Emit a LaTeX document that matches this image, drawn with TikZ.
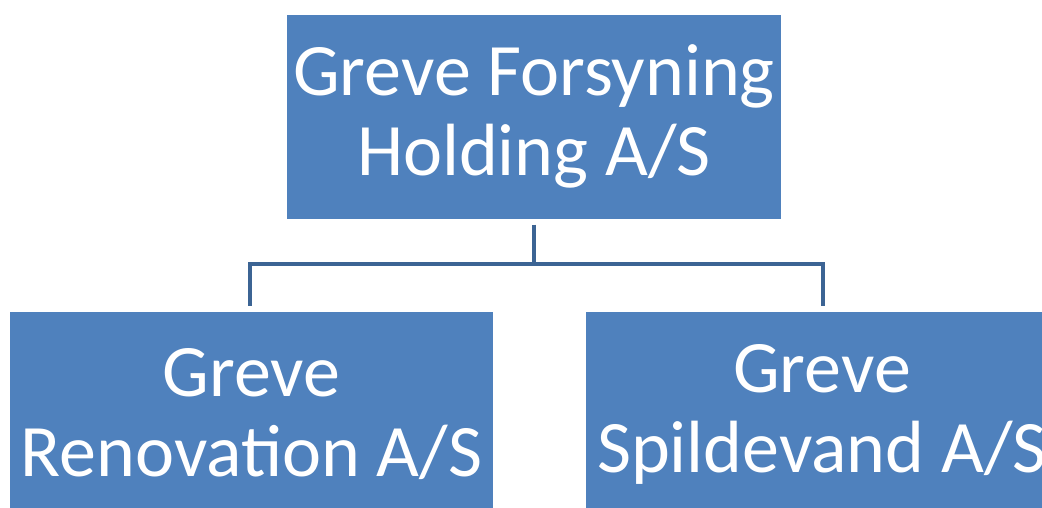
\documentclass[tikz,border=0pt]{standalone}
\usepackage{fontspec}
\setmainfont{Carlito}
\definecolor{boxblue}{HTML}{4F81BD}
\definecolor{linkblue}{HTML}{3C6494}
\begin{document}
\begin{tikzpicture}[x=1pt,y=-1pt,
  orgbox/.style={draw=none, fill=boxblue, text=white, inner sep=0pt,
    minimum width=#1, minimum height=204pt, align=center,
    font=\fontsize{74}{80}\selectfont},
  link/.style={draw=linkblue, line width=4.5pt}]
\useasboundingbox (0,0) rectangle (1042,507);
\clip (0,0) rectangle (1042,507);
\node[orgbox=494pt] (top) at (534,116.5) {Greve Forsyning\\Holding A/S};
\node[orgbox=483pt] (left) at (251.5,414) {Greve\\Renovation A/S};
\node[orgbox=472pt] (right) at (822,414) {Greve\\Spildevand A/S};
\coordinate (j) at (534,264);
\coordinate (jl) at (250,264);
\coordinate (jr) at (823,264);
\draw[link] ([yshift=-6pt]top.south) -- (j);
\draw[link] (jl |- left.north) ++(0,-6) -- (jl) -- (jr) -- ++(0,42);
\end{tikzpicture}
\end{document}
